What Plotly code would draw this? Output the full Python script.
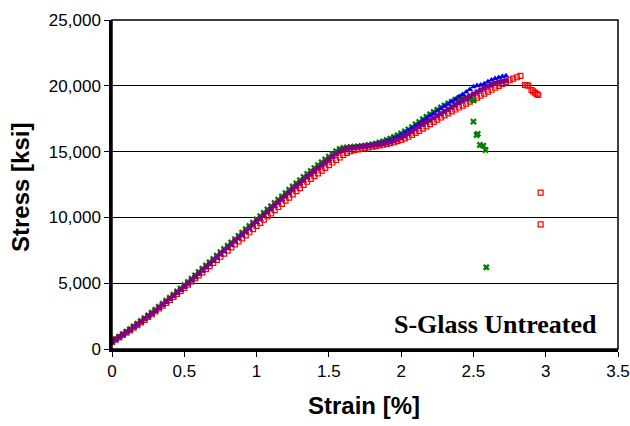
import plotly.graph_objects as go

# Strain grid [%] shared by the four specimens
STRAIN = [0.000, 0.025, 0.050, 0.075, 0.100, 0.125, 0.150, 0.175, 0.200, 0.225,
          0.250, 0.275, 0.300, 0.325, 0.350, 0.375, 0.400, 0.425, 0.450, 0.475,
          0.500, 0.525, 0.550, 0.575, 0.600, 0.625, 0.650, 0.675, 0.700, 0.725,
          0.750, 0.775, 0.800, 0.825, 0.850, 0.875, 0.900, 0.925, 0.950, 0.975,
          1.000, 1.025, 1.050, 1.075, 1.100, 1.125, 1.150, 1.175, 1.200, 1.225,
          1.250, 1.275, 1.300, 1.325, 1.350, 1.375, 1.400, 1.425, 1.450, 1.475,
          1.500, 1.525, 1.550, 1.575, 1.600, 1.625, 1.650, 1.675, 1.700, 1.725,
          1.750, 1.775, 1.800, 1.825, 1.850, 1.875, 1.900, 1.925, 1.950, 1.975,
          2.000, 2.025, 2.050, 2.075, 2.100, 2.125, 2.150, 2.175, 2.200, 2.225,
          2.250, 2.275, 2.300, 2.325, 2.350, 2.375, 2.400, 2.425, 2.450, 2.475,
          2.500, 2.525, 2.550, 2.575, 2.600, 2.625, 2.650, 2.675, 2.700, 2.725,
          2.750, 2.775, 2.800, 2.825]

STRESS_PURPLE = [560, 740, 920, 1100, 1290, 1480, 1680, 1880, 2080, 2290,
                 2500, 2710, 2930, 3150, 3370, 3600, 3830, 4060, 4290, 4520,
                 4760, 5000, 5250, 5490, 5740, 5990, 6240, 6480, 6730, 6980,
                 7230, 7470, 7720, 7970, 8220, 8460, 8710, 8960, 9210, 9450,
                 9700, 9950, 10200, 10440, 10690, 10940, 11190, 11430, 11680, 11930,
                 12170, 12410, 12650, 12880, 13110, 13340, 13560, 13780, 14000, 14210,
                 14420, 14630, 14830, 15020, 15160, 15240, 15280, 15310, 15340, 15370,
                 15400, 15440, 15480, 15520, 15560, 15610, 15670, 15740, 15830, 15940,
                 16070, 16210, 16370, 16540, 16720, 16900, 17070, 17240, 17400, 17560,
                 17720, 17880, 18050, 18220, 18390, 18560, 18730, 18890, 19050, 19210,
                 19370, 19530, 19690, 19840, 19980, 20100, 20200, 20280, 20340, 20390]

STRESS_BLUE = [550, 720, 900, 1080, 1260, 1450, 1640, 1840, 2040, 2240,
               2450, 2660, 2870, 3090, 3310, 3540, 3770, 4000, 4230, 4460,
               4700, 4940, 5180, 5420, 5670, 5920, 6170, 6410, 6660, 6910,
               7160, 7400, 7650, 7900, 8150, 8390, 8640, 8890, 9140, 9380,
               9630, 9880, 10130, 10370, 10620, 10870, 11120, 11360, 11610, 11860,
               12100, 12340, 12580, 12810, 13040, 13270, 13490, 13710, 13930, 14150,
               14360, 14570, 14780, 14980, 15150, 15230, 15280, 15320, 15350, 15380,
               15410, 15450, 15500, 15560, 15630, 15710, 15800, 15900, 16010, 16130,
               16280, 16430, 16590, 16770, 16950, 17130, 17320, 17520, 17720, 17900,
               18080, 18260, 18440, 18620, 18800, 18980, 19160, 19340, 19520, 19720,
               19920, 20020, 20060, 20150, 20300, 20440, 20560, 20640, 20700, 20760]

STRESS_GREEN = [560, 750, 940, 1130, 1320, 1520, 1720, 1920, 2130, 2340,
                2550, 2770, 2990, 3210, 3440, 3670, 3900, 4130, 4370, 4610,
                4850, 5100, 5350, 5600, 5850, 6100, 6350, 6600, 6850, 7100,
                7350, 7600, 7850, 8100, 8350, 8600, 8850, 9100, 9350, 9600,
                9850, 10100, 10350, 10600, 10850, 11100, 11350, 11600, 11850, 12100,
                12350, 12590, 12830, 13070, 13300, 13530, 13750, 13970, 14190, 14400,
                14610, 14820, 15030, 15200, 15280, 15320, 15350, 15370, 15400, 15430,
                15460, 15500, 15550, 15610, 15690, 15780, 15880, 15990, 16110, 16240,
                16380, 16530, 16690, 16860, 17060, 17260, 17460, 17660, 17850, 18020,
                18190, 18350, 18510, 18660, 18800, 18940, 19070, 19170, 19120, 18980,
                18900]
GREEN_TAIL_STRAIN = [2.500, 2.522, 2.530, 2.545, 2.568, 2.583, 2.589]
GREEN_TAIL_STRESS = [17280, 16260, 16350, 15500, 15450, 15120, 6210]

STRESS_RED = [540, 710, 890, 1070, 1250, 1440, 1630, 1820, 2020, 2220,
              2430, 2640, 2860, 3080, 3290, 3510, 3740, 3960, 4190, 4420,
              4650, 4890, 5130, 5360, 5600, 5830, 6070, 6300, 6540, 6770,
              7010, 7240, 7480, 7720, 7950, 8180, 8410, 8640, 8870, 9110,
              9350, 9590, 9830, 10070, 10310, 10550, 10790, 11030, 11270, 11510,
              11750, 11990, 12230, 12470, 12710, 12930, 13140, 13350, 13560, 13770,
              13970, 14170, 14360, 14550, 14740, 14900, 15030, 15110, 15170, 15220,
              15270, 15320, 15370, 15420, 15470, 15520, 15580, 15640, 15710, 15790,
              15880, 16000, 16130, 16270, 16420, 16580, 16750, 16920, 17090, 17260,
              17430, 17590, 17750, 17900, 18050, 18200, 18350, 18500, 18650, 18800,
              18950, 19100, 19250, 19400, 19550, 19700, 19850, 20000, 20150, 20290,
              20420, 20540, 20650, 20760]
RED_TAIL_STRAIN = [2.856, 2.868, 2.879, 2.902, 2.913, 2.925, 2.937, 2.948, 2.965, 2.965]
RED_TAIL_STRESS = [20060, 20040, 20010, 19680, 19580, 19480, 19390, 19300, 11880, 9470]

ANNOTATION_TEXT = "S-Glass Untreated"
X_TITLE = "Strain [%]"
Y_TITLE = "Stress [ksi]"

fig = go.Figure()

fig.add_trace(go.Scatter(
    x=STRAIN[:len(STRESS_RED)] + RED_TAIL_STRAIN,
    y=STRESS_RED + RED_TAIL_STRESS,
    mode="markers",
    marker=dict(symbol="square-open", size=5, color="#FF0000", line=dict(width=1.2, color="#FF0000")),
    name="Red"))

fig.add_trace(go.Scatter(
    x=STRAIN[:len(STRESS_GREEN)] + GREEN_TAIL_STRAIN,
    y=STRESS_GREEN + GREEN_TAIL_STRESS,
    mode="markers",
    marker=dict(symbol="x", size=6, color="#008000", line=dict(width=0)),
    name="Green"))

fig.add_trace(go.Scatter(
    x=STRAIN[:len(STRESS_BLUE)],
    y=STRESS_BLUE,
    mode="markers",
    marker=dict(symbol="triangle-up", size=6, color="#0000FF", line=dict(width=0)),
    name="Blue"))

fig.add_trace(go.Scatter(
    x=STRAIN[:len(STRESS_PURPLE)],
    y=STRESS_PURPLE,
    mode="markers",
    marker=dict(symbol="square", size=5, color="#800080", line=dict(width=0)),
    name="Purple"))

tickfont = dict(family="Liberation Sans, Arial, sans-serif", size=17, color="#000000")
titlefont = dict(family="Liberation Sans, Arial, sans-serif", size=24, color="black",
                 weight="bold")

# plot area spans 112..618 x 20..349 px of the 630x426 page
fig.update_layout(
    width=630, height=426,
    margin=dict(l=112, r=12, t=20, b=77),
    paper_bgcolor="white", plot_bgcolor="white",
    showlegend=False,
    xaxis=dict(range=[0, 3.5], tick0=0, dtick=0.5, ticks="outside", ticklen=5,
               tickcolor="black", tickwidth=1, showline=True, linecolor="black",
               linewidth=2.5, showgrid=False, zeroline=False, tickfont=tickfont,
               automargin=False, ticklabeloverflow="allow"),
    yaxis=dict(range=[0, 25000], tick0=0, dtick=5000, tickformat=",", ticks="outside",
               ticklen=5, tickcolor="black", tickwidth=1, showline=True,
               linecolor="black", linewidth=2.5, showgrid=True, gridcolor="black",
               gridwidth=1, zeroline=False, tickfont=tickfont, automargin=False),
    shapes=[dict(type="rect", xref="paper", yref="paper", x0=0, x1=1, y0=0, y1=1,
                 line=dict(color="black", width=1.5), layer="above")],
    annotations=[
        dict(text=X_TITLE, xref="paper", yref="paper", x=(364 - 112) / 506,
             y=(349 - 406) / 329, xanchor="center", yanchor="middle", showarrow=False,
             font=titlefont),
        dict(text=Y_TITLE, xref="paper", yref="paper", x=(20.5 - 112) / 506,
             y=(349 - 187.5) / 329, xanchor="center", yanchor="middle", showarrow=False,
             textangle=-90, font=titlefont),
        dict(text=ANNOTATION_TEXT, xref="paper", yref="paper", x=(495.8 - 112) / 506,
             y=(349 - 324.5) / 329, xanchor="center", yanchor="middle", showarrow=False,
             font=dict(family="Liberation Serif, Times New Roman, serif", size=26,
                       color="black", weight="bold")),
    ],
)

fig.write_html("out.html", config={"displayModeBar": False},
               post_script="document.body.style.margin='0px';")
